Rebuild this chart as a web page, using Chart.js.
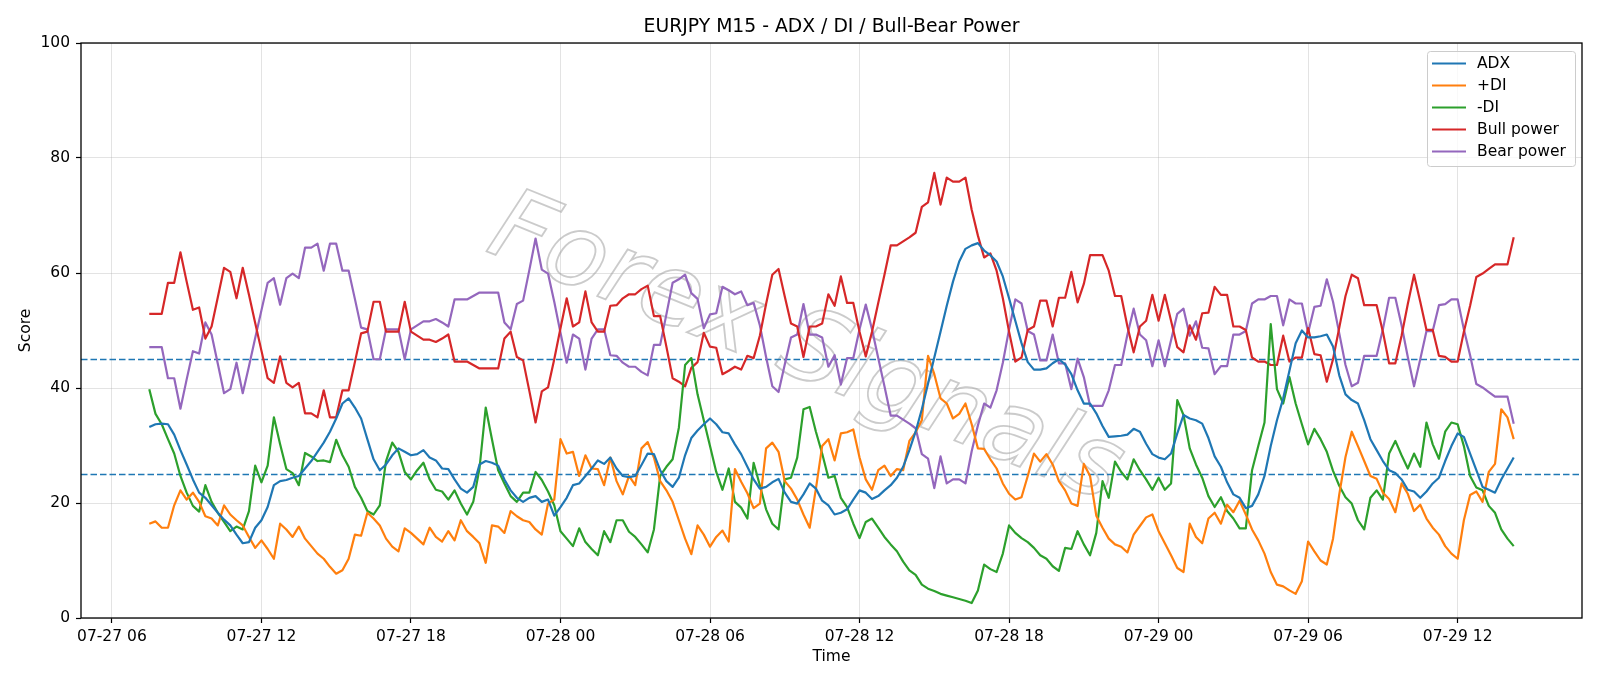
<!DOCTYPE html>
<html>
<head>
<meta charset="utf-8">
<title>EURJPY M15 - ADX / DI / Bull-Bear Power</title>
<script src="https://cdn.jsdelivr.net/npm/chart.js@4.4.1/dist/chart.umd.min.js"></script>
<style>
  html, body { margin: 0; padding: 0; background: #fff; }
  canvas { display: block; }
</style>
</head>
<body>
<canvas id="chart" width="1600" height="686"></canvas>
<script>
// ---------------------------
// 1. Data (M15 bars, hours counted from 07-27 00:00)
// ---------------------------
const startHour = 7.5;
const stepHours = 0.25;

const adx = [
  33.2, 33.7, 33.8, 33.7, 31.9, 29.2, 26.7, 24.1, 21.8, 20.9, 19.6, 18.3, 17.1, 16.1, 14.5, 13.0, 13.2, 15.7, 17.0, 19.3,
  23.1, 23.8, 24.0, 24.4, 24.7, 26.0, 27.3, 28.9, 30.5, 32.4, 34.7, 37.3, 38.2, 36.6, 34.7, 31.1, 27.6, 25.7, 26.7, 28.3,
  29.5, 28.9, 28.3, 28.5, 29.2, 27.9, 27.4, 26.0, 25.9, 24.1, 22.5, 21.8, 22.8, 26.7, 27.3, 27.0, 26.5, 24.1, 22.2, 20.9,
  20.2, 20.9, 21.2, 20.2, 20.6, 17.8, 19.3, 20.9, 23.1, 23.4, 24.7, 26.0, 27.4, 26.8, 27.9, 26.0, 24.7, 24.5, 24.7, 26.6,
  28.6, 28.5, 25.7, 23.8, 22.8, 24.4, 28.3, 31.3, 32.6, 33.7, 34.7, 33.7, 32.3, 32.1, 30.2, 28.5, 26.3, 24.1, 22.5, 22.8,
  23.6, 24.2, 21.8, 20.2, 19.9, 21.5, 23.4, 22.5, 20.4, 19.6, 18.0, 18.3, 18.9, 20.6, 22.2, 21.8, 20.7, 21.2, 22.2, 23.1,
  24.4, 26.3, 29.2, 32.4, 36.3, 40.8, 45.3, 49.8, 54.3, 58.5, 62.0, 64.2, 64.8, 65.2, 63.9, 63.1, 62.0, 59.4, 55.6, 51.7,
  47.8, 44.5, 43.2, 43.2, 43.4, 44.3, 45.0, 44.1, 42.4, 39.6, 37.3, 37.3, 35.6, 33.4, 31.5, 31.6, 31.7, 31.9, 32.9, 32.4,
  30.3, 28.5, 27.9, 27.6, 28.6, 32.1, 35.3, 34.7, 34.4, 33.8, 31.3, 28.1, 26.3, 23.6, 21.5, 20.9, 19.1, 19.5, 21.5, 24.7,
  29.9, 34.4, 38.2, 43.0, 47.8, 50.0, 48.8, 48.8, 49.0, 49.3, 47.2, 42.2, 38.9, 37.9, 37.3, 34.4, 31.1, 29.2, 27.3, 25.7,
  25.2, 24.1, 22.3, 22.0, 20.9, 22.0, 23.4, 24.4, 27.3, 29.9, 32.1, 31.5, 28.6, 25.7, 22.8, 22.3, 21.8, 24.1, 26.0, 27.9
];

const plusDI = [
  16.4, 16.8, 15.7, 15.7, 19.6, 22.2, 20.6, 21.8, 20.2, 17.7, 17.3, 16.1, 19.6, 18.0, 17.0, 16.1, 14.1, 12.2, 13.5, 12.0,
  10.3, 16.4, 15.4, 14.1, 15.9, 13.8, 12.5, 11.2, 10.3, 8.9, 7.7, 8.3, 10.3, 14.5, 14.3, 18.3, 17.3, 16.1, 13.8, 12.4,
  11.6, 15.6, 14.8, 13.8, 12.8, 15.7, 14.1, 13.3, 15.1, 13.5, 17.0, 15.1, 14.1, 13.0, 9.6, 16.1, 15.9, 14.8, 18.6, 17.7,
  17.0, 16.7, 15.4, 14.5, 19.9, 20.6, 31.1, 28.6, 28.9, 24.7, 28.3, 26.0, 25.9, 23.1, 27.9, 23.8, 21.5, 24.7, 23.1, 29.5,
  30.6, 27.9, 23.8, 22.2, 20.2, 17.0, 13.8, 11.1, 16.1, 14.5, 12.4, 14.1, 15.2, 13.3, 25.9, 23.7, 21.7, 19.1, 19.9, 29.5,
  30.5, 28.9, 23.8, 22.5, 20.6, 18.0, 15.7, 22.5, 29.9, 31.1, 27.4, 32.1, 32.3, 32.8, 27.9, 24.1, 22.3, 25.7, 26.5, 24.7,
  25.9, 25.7, 30.8, 32.3, 34.4, 45.6, 42.4, 38.2, 37.3, 34.7, 35.5, 37.3, 33.7, 29.5, 29.4, 27.6, 26.0, 23.4, 21.6, 20.6,
  21.0, 24.7, 28.6, 27.2, 28.5, 26.7, 23.8, 22.2, 19.9, 19.5, 26.8, 24.7, 17.8, 15.7, 13.8, 12.8, 12.4, 11.4, 14.5, 16.0,
  17.5, 18.0, 15.1, 13.0, 10.9, 8.7, 8.0, 16.4, 14.1, 13.0, 17.3, 18.3, 16.4, 19.7, 18.4, 20.4, 18.0, 15.4, 13.5, 11.2,
  8.0, 5.8, 5.5, 4.8, 4.2, 6.4, 13.3, 11.6, 10.0, 9.3, 13.8, 21.5, 28.0, 32.4, 29.9, 27.3, 24.7, 24.2, 21.8, 20.7,
  18.4, 23.4, 21.6, 18.6, 19.7, 17.3, 15.7, 14.5, 12.5, 11.2, 10.3, 17.0, 21.4, 22.0, 20.2, 25.4, 26.8, 36.3, 34.9, 31.1
];

const minusDI = [
  39.8, 35.5, 33.7, 31.1, 28.6, 24.7, 21.8, 19.5, 18.5, 23.1, 20.2, 18.3, 16.7, 15.1, 15.9, 15.4, 18.6, 26.5, 23.6, 26.5,
  34.9, 30.2, 25.9, 25.2, 23.1, 28.7, 28.1, 27.3, 27.4, 27.1, 31.0, 28.3, 26.3, 22.8, 20.9, 18.6, 18.0, 19.6, 27.3, 30.5,
  28.9, 25.4, 24.1, 25.7, 27.0, 24.1, 22.3, 22.0, 20.6, 22.2, 19.9, 18.0, 20.2, 26.0, 36.6, 31.1, 25.7, 23.4, 21.2, 20.2,
  21.8, 21.8, 25.4, 24.0, 22.0, 19.6, 15.1, 13.8, 12.5, 15.6, 13.2, 12.0, 10.9, 15.1, 13.2, 17.0, 17.0, 15.0, 14.1, 12.8,
  11.4, 15.4, 24.7, 26.3, 27.6, 33.1, 44.0, 45.2, 38.9, 34.4, 29.9, 25.4, 22.3, 26.0, 20.2, 19.2, 17.3, 27.0, 23.1, 18.9,
  16.4, 15.4, 24.1, 24.4, 27.9, 36.3, 36.7, 32.4, 28.6, 24.4, 24.7, 20.9, 19.3, 16.4, 13.9, 16.7, 17.3, 15.7, 14.1, 12.8,
  11.6, 9.8, 8.3, 7.5, 5.8, 5.1, 4.7, 4.2, 3.9, 3.6, 3.3, 3.0, 2.6, 4.8, 9.3, 8.5, 8.0, 11.2, 16.1, 14.8,
  13.9, 13.2, 12.2, 10.9, 10.3, 9.0, 8.2, 12.2, 12.0, 15.1, 12.8, 10.9, 14.8, 23.8, 20.9, 27.2, 25.4, 24.1, 27.6, 25.7,
  24.1, 22.3, 24.4, 22.3, 23.4, 37.9, 35.3, 29.5, 26.7, 24.4, 21.2, 19.3, 21.0, 18.6, 17.3, 15.6, 15.6, 25.7, 29.9, 34.0,
  51.1, 39.8, 37.3, 41.9, 37.3, 33.7, 30.2, 32.9, 31.1, 28.9, 25.6, 23.0, 21.0, 19.9, 17.0, 15.4, 20.9, 22.2, 20.6, 28.6,
  30.8, 28.3, 26.0, 28.6, 26.3, 34.0, 30.2, 27.7, 32.4, 34.0, 33.7, 29.9, 24.7, 22.7, 22.2, 19.5, 18.3, 15.4, 13.8, 12.5
];

const bullPower = [
  52.9, 52.9, 52.9, 58.3, 58.3, 63.6, 58.5, 53.6, 54.0, 48.6, 50.7, 55.8, 60.9, 60.2, 55.6, 60.9, 56.2, 51.3, 46.5, 41.7,
  40.9, 45.5, 40.9, 40.1, 40.9, 35.6, 35.6, 34.9, 39.6, 34.9, 34.9, 39.6, 39.6, 44.5, 49.5, 49.8, 55.0, 55.0, 49.8, 49.8,
  49.8, 55.0, 49.8, 49.1, 48.4, 48.4, 48.0, 48.6, 49.3, 44.6, 44.6, 44.6, 44.0, 43.4, 43.4, 43.4, 43.4, 48.6, 49.8, 45.4,
  44.8, 39.5, 34.0, 39.4, 40.1, 45.0, 50.4, 55.6, 50.7, 51.4, 56.8, 51.4, 49.8, 49.8, 54.3, 54.4, 55.6, 56.3, 56.3, 57.2,
  57.8, 52.5, 52.5, 47.2, 41.7, 41.1, 40.3, 43.5, 44.5, 49.6, 47.2, 47.0, 42.4, 43.0, 43.7, 43.2, 45.6, 45.2, 49.1, 54.6,
  59.7, 60.7, 55.9, 51.2, 50.7, 45.4, 50.7, 50.7, 51.2, 56.3, 54.3, 59.4, 54.8, 54.8, 49.8, 45.5, 49.8, 54.8, 59.7, 64.8,
  64.8, 65.5, 66.2, 67.0, 71.5, 72.3, 77.4, 71.9, 76.6, 75.9, 75.9, 76.6, 71.0, 66.5, 62.7, 63.4, 60.4, 55.6, 49.8, 44.6,
  45.3, 50.1, 50.7, 55.2, 55.2, 50.7, 55.7, 55.7, 60.2, 54.9, 58.1, 63.1, 63.1, 63.1, 60.4, 56.0, 56.0, 50.7, 46.2, 50.7,
  51.7, 56.2, 51.7, 56.2, 51.7, 47.1, 46.2, 50.9, 48.4, 53.0, 53.1, 57.6, 56.2, 56.2, 50.7, 50.7, 50.1, 45.3, 44.6, 44.6,
  44.0, 44.0, 49.1, 44.6, 45.3, 45.3, 50.4, 45.9, 45.7, 41.1, 45.0, 50.5, 56.0, 59.7, 59.1, 54.4, 54.4, 54.4, 49.8, 44.3,
  44.3, 49.1, 54.6, 59.7, 55.0, 50.1, 50.1, 45.6, 45.4, 44.6, 44.6, 49.8, 54.3, 59.3, 59.9, 60.7, 61.5, 61.5, 61.5, 66.2
];

const bearPower = [
  47.1, 47.1, 47.1, 41.7, 41.7, 36.4, 41.5, 46.4, 46.0, 51.4, 49.3, 44.2, 39.1, 39.8, 44.4, 39.1, 43.8, 48.7, 53.5, 58.3,
  59.1, 54.5, 59.1, 59.9, 59.1, 64.4, 64.4, 65.1, 60.4, 65.1, 65.1, 60.4, 60.4, 55.5, 50.5, 50.2, 45.0, 45.0, 50.2, 50.2,
  50.2, 45.0, 50.2, 50.9, 51.6, 51.6, 52.0, 51.4, 50.7, 55.4, 55.4, 55.4, 56.0, 56.6, 56.6, 56.6, 56.6, 51.4, 50.2, 54.6,
  55.2, 60.5, 66.0, 60.6, 59.9, 55.0, 49.6, 44.4, 49.3, 48.6, 43.2, 48.6, 50.2, 50.2, 45.7, 45.6, 44.4, 43.7, 43.7, 42.8,
  42.2, 47.5, 47.5, 52.8, 58.3, 58.9, 59.7, 56.5, 55.5, 50.4, 52.8, 53.0, 57.6, 57.0, 56.3, 56.8, 54.4, 54.8, 50.9, 45.4,
  40.3, 39.3, 44.1, 48.8, 49.3, 54.6, 49.3, 49.3, 48.8, 43.7, 45.7, 40.6, 45.2, 45.2, 50.2, 54.5, 50.2, 45.2, 40.3, 35.2,
  35.2, 34.5, 33.8, 33.0, 28.5, 27.7, 22.6, 28.1, 23.4, 24.1, 24.1, 23.4, 29.0, 33.5, 37.3, 36.6, 39.6, 44.4, 50.2, 55.4,
  54.7, 49.9, 49.3, 44.8, 44.8, 49.3, 44.3, 44.3, 39.8, 45.1, 41.9, 36.9, 36.9, 36.9, 39.6, 44.0, 44.0, 49.3, 53.8, 49.3,
  48.3, 43.8, 48.3, 43.8, 48.3, 52.9, 53.8, 49.1, 51.6, 47.0, 46.9, 42.4, 43.8, 43.8, 49.3, 49.3, 49.9, 54.7, 55.4, 55.4,
  56.0, 56.0, 50.9, 55.4, 54.7, 54.7, 49.6, 54.1, 54.3, 58.9, 55.0, 49.5, 44.0, 40.3, 40.9, 45.6, 45.6, 45.6, 50.2, 55.7,
  55.7, 50.9, 45.4, 40.3, 45.0, 49.9, 49.9, 54.4, 54.6, 55.4, 55.4, 50.2, 45.7, 40.7, 40.1, 39.3, 38.5, 38.5, 38.5, 33.8
];

const seriesNames = ['ADX', '+DI', '-DI', 'Bull power', 'Bear power'];
const seriesColors = ['#1f77b4', '#ff7f0e', '#2ca02c', '#d62728', '#9467bd'];

const xTickHours = [6, 12, 18, 24, 30, 36, 42, 48, 54, 60];
const xTickLabels = ['07-27 06', '07-27 12', '07-27 18', '07-28 00', '07-28 06',
                     '07-28 12', '07-28 18', '07-29 00', '07-29 06', '07-29 12'];
const refLevels = [25, 45];

const chartTitle = 'EURJPY M15 - ADX / DI / Bull-Bear Power';
const xTitle = 'Time';
const yTitle = 'Score';
const watermark = 'Forex Signals';

// ---------------------------
// 2. Helpers
// ---------------------------
const FONT = "'DejaVu Sans', sans-serif";

function toPoints(values) {
  return values.map((v, i) => ({ x: startHour + i * stepHours, y: v }));
}

// matplotlib-like extras: title, axis titles, dashed levels, box, legend, watermark
const decorPlugin = {
  id: 'decor',
  beforeDatasetsDraw(chart) {
    const { ctx, chartArea: a, scales } = chart;

    // watermark
    ctx.save();
    ctx.beginPath();
    ctx.rect(a.left, a.top, a.right - a.left, a.bottom - a.top);
    ctx.clip();
    ctx.translate(805, 352);
    ctx.rotate(22 * Math.PI / 180);
    ctx.font = "italic 100px 'DejaVu Sans', sans-serif";
    ctx.textAlign = 'center';
    ctx.textBaseline = 'middle';
    ctx.strokeStyle = 'rgba(160, 160, 160, 0.55)';
    ctx.lineWidth = 1.8;
    ctx.strokeText(watermark, 0, 0);
    ctx.restore();

    // dashed reference levels
    ctx.save();
    ctx.strokeStyle = '#1f77b4';
    ctx.lineWidth = 1.5;
    ctx.setLineDash([6.5, 3]);
    refLevels.forEach(level => {
      const y = Math.round(scales.y.getPixelForValue(level)) + 0.5;
      ctx.beginPath();
      ctx.moveTo(a.left, y);
      ctx.lineTo(a.right, y);
      ctx.stroke();
    });
    ctx.restore();
  },
  afterDatasetsDraw(chart) {
    const { ctx, chartArea: a } = chart;

    // frame
    ctx.save();
    ctx.strokeStyle = '#000';
    ctx.lineWidth = 1.3;
    ctx.strokeRect(a.left, a.top, a.right - a.left, a.bottom - a.top);
    ctx.restore();

    // title + axis titles
    ctx.save();
    ctx.fillStyle = '#000';
    ctx.textAlign = 'center';
    ctx.textBaseline = 'middle';
    ctx.font = `18.8px ${FONT}`;
    ctx.fillText(chartTitle, (a.left + a.right) / 2, 27);
    ctx.font = `15.5px ${FONT}`;
    ctx.fillText(xTitle, (a.left + a.right) / 2, 657);
    ctx.translate(26, (a.top + a.bottom) / 2);
    ctx.rotate(-Math.PI / 2);
    ctx.fillText(yTitle, 0, 0);
    ctx.restore();

    // legend (upper right)
    const box = { x: 1427, y: 51, w: 148, h: 115 };
    ctx.save();
    ctx.fillStyle = 'rgba(255, 255, 255, 0.8)';
    ctx.strokeStyle = '#cccccc';
    ctx.lineWidth = 1;
    ctx.beginPath();
    ctx.roundRect(box.x + 0.5, box.y + 0.5, box.w, box.h, 3);
    ctx.fill();
    ctx.stroke();
    ctx.font = `15.5px ${FONT}`;
    ctx.textBaseline = 'middle';
    ctx.textAlign = 'left';
    seriesNames.forEach((name, i) => {
      const y = box.y + 12.5 + i * 22;
      ctx.strokeStyle = seriesColors[i];
      ctx.lineWidth = 2.2;
      ctx.beginPath();
      ctx.moveTo(box.x + 5, y);
      ctx.lineTo(box.x + 39, y);
      ctx.stroke();
      ctx.fillStyle = '#000';
      ctx.fillText(name, box.x + 50, y);
    });
    ctx.restore();
  }
};

// ---------------------------
// 3. Chart
// ---------------------------
const seriesValues = [adx, plusDI, minusDI, bullPower, bearPower];

const datasets = seriesValues.map((values, i) => ({
  label: seriesNames[i],
  data: toPoints(values),
  borderColor: seriesColors[i],
  backgroundColor: seriesColors[i],
  borderWidth: 2.2,
  pointRadius: 0,
  tension: 0,
  fill: false,
  borderJoinStyle: 'round'
}));

new Chart(document.getElementById('chart').getContext('2d'), {
  type: 'line',
  data: { datasets: datasets },
  options: {
    responsive: false,
    animation: false,
    devicePixelRatio: 1,
    layout: { padding: { top: 43, right: 18, bottom: 0, left: 0 } },
    plugins: {
      legend: { display: false },
      title: { display: false },
      tooltip: { enabled: false }
    },
    scales: {
      x: {
        type: 'linear',
        min: 4.76,
        max: 64.99,
        afterFit: scale => { scale.height = 68; },
        afterBuildTicks: scale => { scale.ticks = xTickHours.map(v => ({ value: v })); },
        grid: {
          color: 'rgba(176, 176, 176, 0.35)',
          lineWidth: 1,
          tickColor: '#000',
          tickLength: 5,
          tickWidth: 1.2
        },
        border: { display: false },
        ticks: {
          autoSkip: false,
          maxRotation: 0,
          padding: 5,
          color: '#000',
          font: { family: FONT, size: 15.5 },
          callback: value => xTickLabels[xTickHours.indexOf(value)]
        }
      },
      y: {
        min: 0,
        max: 100,
        afterFit: scale => { scale.width = 81; },
        grid: {
          color: 'rgba(176, 176, 176, 0.35)',
          lineWidth: 1,
          tickColor: '#000',
          tickLength: 5,
          tickWidth: 1.2
        },
        border: { display: false },
        ticks: {
          stepSize: 20,
          padding: 6,
          color: '#000',
          font: { family: FONT, size: 15.5 }
        }
      }
    }
  },
  plugins: [decorPlugin]
});
</script>
</body>
</html>
